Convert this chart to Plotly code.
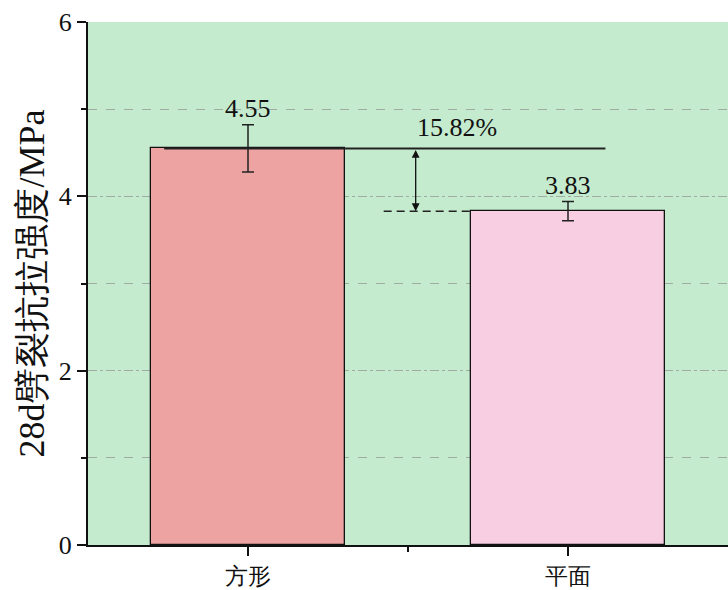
import plotly.graph_objects as go

categories = ["方形", "平面"]
values = [4.55, 3.83]
errors = [0.27, 0.11]
bar_colors = ["#EDA3A1", "#F8CEE2"]
y_ticks = [0, 2, 4, 6]

xpos = list(range(len(categories)))
serif = "Liberation Serif"

fig = go.Figure()
fig.add_trace(go.Bar(
    x=xpos, y=values, width=0.605,
    marker=dict(color=bar_colors, line=dict(color="#111111", width=1.3)),
    error_y=dict(type="data", array=errors, visible=True, color="#222222", thickness=1.5, width=6),
    showlegend=False,
))

# value labels above error bars
for xi, v, e in zip(xpos, values, errors):
    fig.add_annotation(x=xi, y=v + e, text=f"{v:.2f}", showarrow=False, yanchor="bottom",
                       yshift=0, font=dict(family=serif, size=26, color="#111111"))

# reference lines and difference
diff_pct = (values[0] - values[1]) / values[0] * 100
fig.add_shape(type="line", x0=xpos[0] - 0.262, x1=xpos[0] + 1.117, y0=values[0], y1=values[0],
              line=dict(color="#222222", width=2))
fig.add_shape(type="line", x0=xpos[0] + 0.424, x1=xpos[1] - 0.3, y0=values[1], y1=values[1],
              line=dict(color="#222222", width=1.5, dash="8px,5px"))
fig.add_annotation(x=xpos[0] + 0.524, y=values[1], ax=xpos[0] + 0.524, ay=values[0],
                   axref="x", ayref="y", text="", showarrow=True, arrowhead=2, arrowside="end+start",
                   arrowsize=1.2, arrowwidth=1.3, arrowcolor="#111111")
fig.add_annotation(x=xpos[0] + 0.652, y=values[0] + 0.05, text=f"{diff_pct:.2f}%", showarrow=False,
                   yanchor="bottom", font=dict(family=serif, size=26, color="#111111"))

# y-axis title
fig.add_annotation(x=0, xref="paper", y=0.5, yref="paper", xanchor="center", yanchor="middle",
                   xshift=-57, text="28d劈裂抗拉强度/MPa", textangle=-90, showarrow=False,
                   font=dict(family=serif, size=36, color="#111111"))

fig.update_layout(
    width=728, height=590,
    margin=dict(l=88, r=0, t=22, b=45, autoexpand=False),
    plot_bgcolor="#C5EBCF", paper_bgcolor="white",
    font=dict(family=serif, size=26, color="#111111"),
    bargap=0,
)
fig.update_xaxes(
    range=[-0.5, 1.5], tickmode="array", tickvals=xpos, ticktext=categories,
    showline=True, linecolor="#111111", linewidth=2, ticks="outside", ticklen=9, tickwidth=2,
    tickcolor="#111111", showgrid=False, zeroline=False,
    tickfont=dict(family=serif, size=23, color="#111111"),
    minor=dict(tickvals=[0.5], ticks="outside", ticklen=5, tickwidth=2, tickcolor="#111111", showgrid=False),
)
fig.update_yaxes(
    range=[0, 6], tickmode="array", tickvals=y_ticks,
    showline=True, linecolor="#111111", linewidth=2, ticks="outside", ticklen=9, tickwidth=2,
    tickcolor="#111111", zeroline=False,
    showgrid=True, gridcolor="#A0ABA4", griddash="dashdot", gridwidth=1,
    minor=dict(tickvals=[1, 3, 5], ticks="outside", ticklen=5, tickwidth=2, tickcolor="#111111",
               showgrid=True, gridcolor="#A0ABA4", griddash="dash", gridwidth=1),
    tickfont=dict(family=serif, size=26, color="#111111"),
)

fig.write_html("out.html")
